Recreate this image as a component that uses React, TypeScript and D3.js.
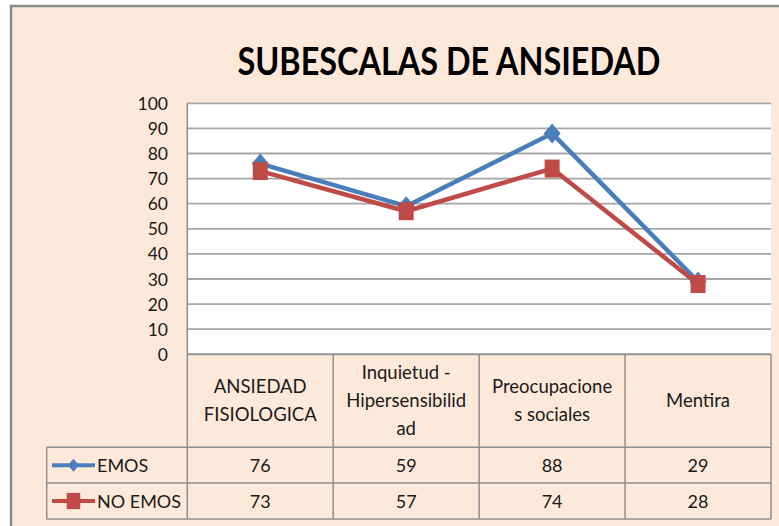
import React from "react";
import * as d3 from "d3";

const categories: string[][] = [
  ["ANSIEDAD", "FISIOLOGICA"],
  ["Inquietud -", "Hipersensibilid", "ad"],
  ["Preocupacione", "s sociales"],
  ["Mentira"],
];
const seriesNames = ["EMOS", "NO EMOS"];
const emos = [76, 59, 88, 29];
const noEmos = [73, 57, 74, 28];
const yTicks = [0, 10, 20, 30, 40, 50, 60, 70, 80, 90, 100];

const W = 779;
const H = 526;
const BG = "#FDE9D9";
const BLUE = "#4A7EBB";
const RED = "#BE4B48";
const GRID = "#A6A6A6";
const TBL = "#8E8E8E";
const FONT = "Lato, 'Open Sans', sans-serif";
const TXT = "#1a1a1a";

const plotL = 187.3;
const plotR = 771;
const plotT = 103.3;
const plotB = 354.3;
const hdrB = 447.3;
const row1B = 483;
const row2B = 519;
const legL = 46.7;

export default function App() {
  const idx = categories.map((_, i) => String(i));
  const x = d3.scaleBand<string>().domain(idx).range([plotL, plotR]);
  const y = d3.scaleLinear().domain([0, 100]).range([plotB, plotT]);
  const cx = (i: number) => (x(String(i)) as number) + x.bandwidth() / 2;
  const line = d3
    .line<number>()
    .x((_, i) => cx(i))
    .y((d) => y(d));

  const series = [
    { name: seriesNames[0], values: emos, color: BLUE, marker: "diamond" },
    { name: seriesNames[1], values: noEmos, color: RED, marker: "square" },
  ];

  const marker = (kind: string, px: number, py: number, color: string, key: string, s = 1) => {
    if (kind === "diamond") {
      const w = 8.5 * s;
      const h = 10 * s;
      return (
        <path
          key={key}
          d={`M${px},${py - h}L${px + w},${py}L${px},${py + h}L${px - w},${py}Z`}
          fill={color}
        />
      );
    }
    const w = 7.5 * s;
    const h = 9 * s;
    return <rect key={key} x={px - w} y={py - h} width={2 * w} height={2 * h} fill={color} />;
  };

  const bounds = idx.map((k) => x(k) as number).concat([plotR]);

  return (
    <svg
      width={W}
      height={H}
      style={{ position: "absolute", left: 0, top: 0 }}
      fontFamily={FONT}
    >
      <rect x={0} y={0} width={W} height={H} fill="#ffffff" />
      <rect x={11} y={6} width={W + 20} height={H + 20} fill={BG} stroke="#8A8A8A" strokeWidth={2.5} />

      <text
        x={449}
        y={74.5}
        textAnchor="middle"
        fontSize={38}
        fontWeight={700}
        fill="#000"
        textLength={423}
        lengthAdjust="spacingAndGlyphs"
      >
        SUBESCALAS DE ANSIEDAD
      </text>

      {/* plot area */}
      <rect x={plotL} y={plotT} width={plotR - plotL} height={plotB - plotT} fill="#ffffff" />
      {yTicks.map((t) => (
        <line key={"g" + t} x1={plotL} x2={plotR} y1={y(t)} y2={y(t)} stroke={GRID} strokeWidth={1.8} />
      ))}
      {yTicks.map((t) => (
        <text
          key={"yt" + t}
          x={168}
          y={y(t) + 6.5}
          textAnchor="end"
          fontSize={17.5}
          fill={TXT}
        >
          {t}
        </text>
      ))}

      {/* table */}
      <g stroke={TBL} strokeWidth={1.5} fill="none">
        <line x1={plotL} x2={plotR} y1={plotB} y2={plotB} />
        <line x1={legL} x2={plotR} y1={hdrB} y2={hdrB} />
        <line x1={legL} x2={plotR} y1={row1B} y2={row1B} />
        <line x1={legL} x2={plotR} y1={row2B} y2={row2B} />
        <line x1={legL} x2={legL} y1={hdrB} y2={row2B} />
        {bounds.map((b, i) => (
          <line key={"v" + i} x1={b} x2={b} y1={i === 0 ? plotT : plotB} y2={row2B} />
        ))}
      </g>

      {/* category labels */}
      {categories.map((lines, i) => {
        const lh = 28;
        const mid = (plotB + hdrB) / 2 + 6.5;
        const start = mid - ((lines.length - 1) * lh) / 2;
        return (
          <text key={"c" + i} textAnchor="middle" fontSize={18.5} fill={TXT}>
            {lines.map((l, j) => (
              <tspan key={j} x={cx(i)} y={start + j * lh}>
                {l}
              </tspan>
            ))}
          </text>
        );
      })}

      {/* value rows */}
      {series.map((s, r) => {
        const top = r === 0 ? hdrB : row1B;
        const bot = r === 0 ? row1B : row2B;
        const mid = (top + bot) / 2;
        return (
          <g key={"row" + r}>
            <line x1={52} x2={95} y1={mid} y2={mid} stroke={s.color} strokeWidth={4} />
            {marker(s.marker, 73.5, mid, s.color, "lm" + r, s.marker === "diamond" ? 0.65 : 0.9)}
            <text x={97} y={mid + 6.5} fontSize={18} fill={TXT}>
              {s.name}
            </text>
            {s.values.map((v, i) => (
              <text key={i} x={cx(i)} y={mid + 6.5} textAnchor="middle" fontSize={18} fill={TXT}>
                {v}
              </text>
            ))}
          </g>
        );
      })}

      {/* series lines */}
      {series.map((s, r) => (
        <g key={"s" + r}>
          <path d={line(s.values) as string} fill="none" stroke={s.color} strokeWidth={4.5} strokeLinejoin="round" />
          {s.values.map((v, i) => marker(s.marker, cx(i), y(v), s.color, "m" + r + i))}
        </g>
      ))}
    </svg>
  );
}
